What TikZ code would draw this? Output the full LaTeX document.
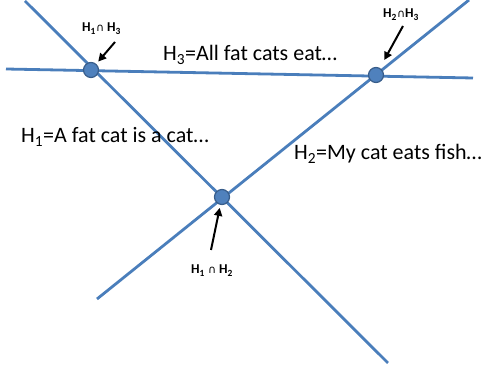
\documentclass[tikz,border=0pt]{standalone}
\usepackage{fontspec}
\setmainfont{Carlito}
\newfontfamily\symfont{DejaVu Sans}
\usetikzlibrary{arrows.meta}
\definecolor{hline}{HTML}{4A7EBB}
\definecolor{dotfill}{HTML}{4F81BD}
\definecolor{dotdraw}{HTML}{385D8A}
\newcommand\capsym{{\symfont\fontsize{11}{11}\selectfont\mdseries ∩}}
\tikzset{
  hyper/.style={draw=hline, line width=2.8pt},
  dot/.style={circle, fill=dotfill, draw=dotdraw, line width=1.2pt, minimum size=15pt, inner sep=0pt},
  pointer/.style={draw=black, line width=2pt, -{Triangle[length=8pt,width=8pt]}},
  biglabel/.style={anchor=base west, inner sep=0pt, font=\fontsize{22}{26}\selectfont},
  smalllabel/.style={anchor=base west, inner sep=0pt, font=\bfseries\fontsize{13.5}{15}\selectfont}
}
\begin{document}
\begin{tikzpicture}[x=1pt,y=-1pt]
\useasboundingbox (0,0) rectangle (483,371);
% line end points
\coordinate (h1a) at (25,1);
\coordinate (h1b) at (388,363);
\coordinate (h2a) at (97,299);
\coordinate (h2b) at (469,0);
\coordinate (h3a) at (6,69);
\coordinate (h3b) at (473,78);
\draw[hyper] (h1a) -- (h1b);
\draw[hyper] (h2a) -- (h2b);
\draw[hyper] (h3a) -- (h3b);
% intersections
\node[dot] (i13) at (91,70) {};
\node[dot] (i23) at (376,75) {};
\node[dot] (i12) at (222,197) {};
% labels
\node[biglabel] (l3) at (163,61) {H\textsubscript{3}=All fat cats eat…};
\node[biglabel] (l1) at (21,143) {H\textsubscript{1}=A fat cat is a cat…};
\node[biglabel] (l2) at (294,160) {H\textsubscript{2}=My cat eats fish…};
\node[smalllabel] (s13) at (82,32) {H\textsubscript{1}\capsym\ H\textsubscript{3}};
\node[smalllabel] (s23) at (383,18) {H\textsubscript{2}\capsym H\textsubscript{3}};
\node[smalllabel] (s12) at (191,274) {H\textsubscript{1} \capsym\ H\textsubscript{2}};
% pointers
\coordinate (t13) at (115,42);
\coordinate (t23) at (403,26);
\coordinate (t12) at (211,250);
\draw[pointer, shorten >=3pt] (t13) -- (i13);
\draw[pointer, shorten >=9pt] (t23) -- (i23);
\draw[pointer, shorten >=3pt] (t12) -- (i12);
\end{tikzpicture}
\end{document}
